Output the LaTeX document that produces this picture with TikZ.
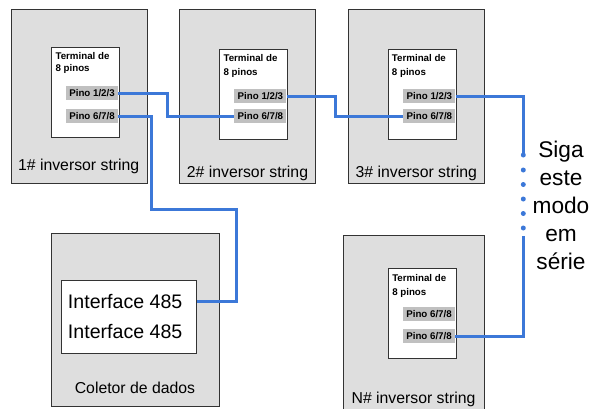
\documentclass[tikz,border=0pt]{standalone}
\usepackage{fontspec}
\setmainfont{Liberation Sans}
\definecolor{boxgray}{HTML}{DEDEDE}
\definecolor{pingray}{HTML}{C0C0C0}
\definecolor{wireblue}{HTML}{3C78D8}

\begin{document}
\begin{tikzpicture}
[
	x=0.75pt,y=-0.75pt,
	invbox/.style={draw=black!80,line width=0.75pt,fill=boxgray,anchor=north west,inner sep=0pt,minimum width=102pt,minimum height=130pt},
	termbox/.style={draw=black!80,line width=0.75pt,fill=white,anchor=north west,inner sep=0pt,minimum width=51pt,minimum height=67.5pt},
	pin/.style={fill=pingray,anchor=east,inner sep=0pt,minimum width=39pt,minimum height=10.5pt,font=\fontsize{7.3}{8}\selectfont\bfseries},
	termtext/.style={anchor=west,inner sep=0pt,align=left,font=\fontsize{7.3}{10.7}\selectfont\bfseries},
	boxlabel/.style={inner sep=0pt,font=\fontsize{11.85}{14}\selectfont},
	wire/.style={wireblue,line width=2.25pt},
	dotpt/.style={circle,fill=wireblue,inner sep=0pt,minimum size=3.75pt}
]
	\useasboundingbox (0,0) rectangle (593,408);

	% inverter boxes
	\node[invbox] (inv1) at (10.7,9.3) {};
	\node[invbox] (inv2) at (179.3,9.3) {};
	\node[invbox] (inv3) at (348.3,9.3) {};
	\node[invbox,minimum width=106.2pt,minimum height=134pt] (invN) at (342.7,235) {};
	\node[invbox,minimum width=126pt] (col) at (51,232.7) {};

	% box labels
	\node[boxlabel] (lab1) at (78.7,166) {1\# inversor string};
	\node[boxlabel] (lab2) at (247.5,173.3) {2\# inversor string};
	\node[boxlabel] (lab3) at (416.3,173.3) {3\# inversor string};
	\node[boxlabel] (labN) at (413.5,399) {N\# inversor string};
	\node[boxlabel] (labcol) at (135,388) {Coletor de dados};

	% terminals
	\node[termbox] (term1) at (50.7,46.7) {};
	\node[termbox] (term2) at (219,48.7) {};
	\node[termbox] (term3) at (387.7,48.7) {};
	\node[termbox] (termN) at (387.7,268.3) {};
	\node[termtext,font=\fontsize{7.3}{9.2}\selectfont\bfseries] (tt1) at (55.3,62.9) {Terminal de\\8 pinos};
	\node[termtext] (tt2) at (223.3,66.2) {Terminal de\\8 pinos};
	\node[termtext] (tt3) at (391.7,66.2) {Terminal de\\8 pinos};
	\node[termtext] (ttN) at (392,286.2) {Terminal de\\8 pinos};

	% pins
	\node[pin] (inv1p1) at (118.3,93) {Pino 1/2/3};
	\node[pin] (inv1p6) at (118.3,116.2) {Pino 6/7/8};
	\node[pin] (inv2p1) at (286.7,96) {Pino 1/2/3};
	\node[pin] (inv2p6) at (286.7,116.3) {Pino 6/7/8};
	\node[pin] (inv3p1) at (455.7,96) {Pino 1/2/3};
	\node[pin] (inv3p6) at (455.7,116.3) {Pino 6/7/8};
	\node[pin] (invNp6a) at (455.3,314) {Pino 6/7/8};
	\node[pin] (invNp6b) at (455.3,336.3) {Pino 6/7/8};

	% collector interface
	\node[draw=black!80,line width=0.75pt,fill=white,anchor=north west,inner sep=0pt,minimum width=101pt,minimum height=55pt] (ifbox) at (61,280) {};
	\node[anchor=west,inner sep=0pt,font=\fontsize{14.7}{17}\selectfont] (if1) at (67.7,301.5) {Interface 485};
	\node[anchor=west,inner sep=0pt,font=\fontsize{14.7}{17}\selectfont] (if2) at (67.7,331) {Interface 485};

	% wires
	\draw[wire] (inv1p1.east) -- ++(49,0) |- (inv2p6.west);
	\draw[wire] (inv1p6.east) -- ++(33.5,0) -- ++(0,93) -- ++(85,0) |- (ifbox.east |- if1);
	\draw[wire] (inv2p1.east) -- ++(49,0) |- (inv3p6.west);
	\coordinate (dotA) at (523.3,155);
	\coordinate (dotB) at (523.3,236);
	\draw[wire] (inv3p1.east) -| (dotA);
	\draw[wire] (dotB) |- (invNp6b.east);

	% dots
	\foreach \i/\y in {1/155,2/170,3/184.5,4/199,5/213.5,6/228} {
		\node[dotpt] (d\i) at (523.3,\y) {};
	}

	% note
	\node[align=center,inner sep=0pt,font=\fontsize{17}{21}\selectfont] (note) at (561,205) {Siga\\este\\modo\\em\\série};

\end{tikzpicture}
\end{document}
